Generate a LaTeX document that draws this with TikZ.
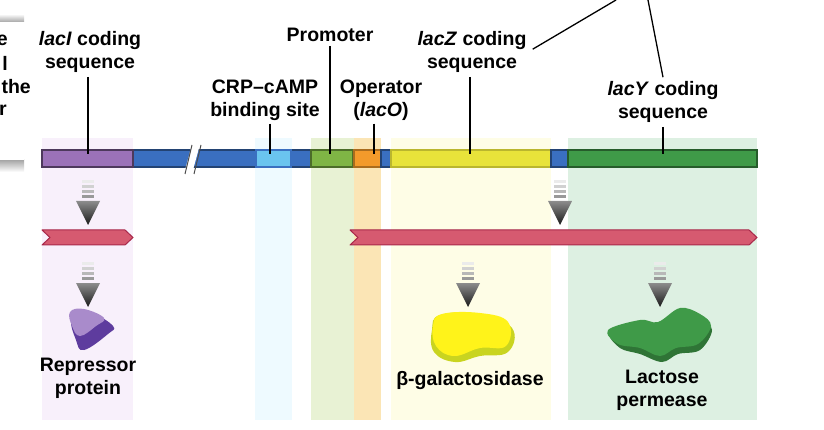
\documentclass[tikz,border=0pt]{standalone}
\usepackage{fontspec}
\setmainfont{Liberation Sans}
\usetikzlibrary{arrows.meta,calc,positioning}
\definecolor{bandI}{HTML}{F8F0FB}
\definecolor{bandC}{HTML}{EEFAFF}
\definecolor{bandP}{HTML}{E8F2D4}
\definecolor{bandO}{HTML}{FBE5B5}
\definecolor{bandZ}{HTML}{FEFDE6}
\definecolor{bandY}{HTML}{DDF0E2}
\definecolor{dnaI}{HTML}{9B72B8}
\definecolor{dnaB}{HTML}{3A6FC0}
\definecolor{dnaC}{HTML}{6AC4EF}
\definecolor{dnaP}{HTML}{7FB545}
\definecolor{dnaO}{HTML}{F39A2B}
\definecolor{dnaZ}{HTML}{E8E33A}
\definecolor{dnaY}{HTML}{3F9A48}
\definecolor{mrna}{HTML}{D65A70}
\definecolor{mrnaD}{HTML}{A8284A}
\definecolor{repL}{HTML}{A98BCB}
\definecolor{repD}{HTML}{5E3C9E}
\tikzset{
  lbl/.style={font=\bfseries\fontsize{19.5}{23}\selectfont,align=center,inner sep=0pt},
  lead/.style={line width=1.3pt,black},
  seg/.style={line width=1.5pt},
  chev/.style={fill=mrna,draw=mrnaD,line width=1pt,line join=round}
}
% expression arrow: dashed stem and shaded head
\newcommand{\exprarrow}[2]{%
  \foreach \k/\g in {0/8,1/18,2/28,3/40}
    \fill[black!\g] (#1-6,#2+\k*5) rectangle (#1+6,#2+\k*5+3);
  \shade[top color=black!45,bottom color=black!90] (#1-12,#2+21) -- (#1+12,#2+21) -- (#1,#2+45) -- cycle;
}
\begin{document}
\begin{tikzpicture}[x=1pt,y=-1pt]
\useasboundingbox (0,0) rectangle (824,430);
\clip (0,0) rectangle (824,430);
% bands
\fill[bandI] (42,138) rectangle (133,420);
\fill[bandC] (255,138) rectangle (292,420);
\fill[bandP] (311,138) rectangle (354,420);
\fill[bandO] (354,138) rectangle (381,420);
\fill[bandZ] (391,138) rectangle (551,420);
\fill[bandY] (568,138) rectangle (757,420);
% left callout box
\shade[top color=white,bottom color=black!35] (-10,14) rectangle (24,22);
\shade[top color=black!35,bottom color=white] (-10,160) rectangle (24,172);
\fill[white] (-10,22) rectangle (24,160);
\node[lbl,anchor=east] (c1) at (8,40) {e};
\node[lbl,anchor=east] (c2) at (8,63) {l};
\node[lbl,anchor=east] (c3) at (31,87) {the};
\node[lbl,anchor=east] (c4) at (7,110) {r};
% DNA
\fill[dnaB] (133,150) rectangle (311,167);
\draw[seg,draw=dnaB!60!black] (133,150) rectangle (311,167);
\draw[seg,fill=dnaI,draw=dnaI!50!black] (42,150) rectangle (133,167);
\fill[white] (191,148) -- (199,148) -- (193,170) -- (185,170) -- cycle;
\draw[line width=1pt,black!70] (192,145) -- (185,174) (201,145) -- (194,174);
\draw[seg,fill=dnaC,draw=dnaB] (256,150) rectangle (291,167);
\draw[seg,fill=dnaP,draw=dnaP!60!black] (311,150) rectangle (353,167);
\draw[seg,fill=dnaO,draw=dnaO!70!black] (354,150) rectangle (381,167);
\draw[seg,fill=dnaB,draw=dnaB!60!black] (381,150) rectangle (391,167);
\draw[seg,fill=dnaZ,draw=dnaZ!80!black] (391,150) rectangle (551,167);
\draw[seg,fill=dnaB,draw=dnaB!60!black] (551,150) rectangle (568,167);
\draw[seg,fill=dnaY,draw=dnaY!60!black] (568,150) rectangle (757,167);
% labels
\node[lbl] (lacI) at (90,52) {\textit{lacI} coding\\sequence};
\node[lbl] (prom) at (330,35) {Promoter};
\node[lbl] (crp) at (265,100) {CRP\textendash cAMP\\binding site};
\node[lbl] (oper) at (381,100) {Operator\\(\textit{lacO})};
\node[lbl] (lacZ) at (472,52) {\textit{lacZ} coding\\sequence};
\node[lbl] (lacY) at (663,102) {\textit{lacY} coding\\sequence};
\coordinate (tI) at (88,154);
\coordinate (tC) at (270,154);
\coordinate (tP) at (330,154);
\coordinate (tO) at (374,154);
\coordinate (tZ) at (470,154);
\coordinate (tY) at (663,154);
\coordinate (uZ) at (616,0);
\coordinate (uY) at (648,0);
\draw[lead] (lacI.south) ++(-2,4) -- (tI);
\draw[lead] (crp.south) ++(5,3) -- (tC);
\draw[lead] (prom.south) ++(0,4) -- (tP);
\draw[lead] (oper.south) ++(-7,3) -- (tO);
\draw[lead] (lacZ.south) ++(-2,4) -- (tZ);
\draw[lead] (lacY.south) ++(0,4) -- (tY);
\draw[lead] ($(lacZ.north east)+(6,18)$) -- (uZ);
\draw[lead] ($(lacY.north)+(0,-4)$) -- (uY);
% transcription / translation arrows
\exprarrow{88}{180}
\exprarrow{560}{180}
\exprarrow{88}{262}
\exprarrow{468}{262}
\exprarrow{660}{262}
% mRNAs
\draw[chev] (42,230) -- (125,230) -- (133,237.5) -- (125,245) -- (42,245) -- (50,237.5) -- cycle;
\draw[chev] (350,230) -- (749,230) -- (757,237.5) -- (749,245) -- (350,245) -- (358,237.5) -- cycle;
% proteins
\fill[repD] plot[smooth cycle,tension=0.7] coordinates {(72,318) (92,314) (113,326) (108,334) (84,350) (76,340)};
\fill[repL] plot[smooth cycle,tension=0.7] coordinates {(70,312) (84,309) (104,318) (96,326) (80,336) (72,326)};
\fill[yellow!85!green!90!black] plot[smooth cycle,tension=0.7] coordinates {(440,315) (480,314) (512,328) (508,352) (480,356) (455,362) (434,352) (432,330)};
\fill[yellow!90!white] plot[smooth cycle,tension=0.7] coordinates {(442,314) (480,313) (508,322) (506,346) (480,348) (454,356) (436,346) (433,326)};
\fill[dnaY!75!black] plot[smooth cycle,tension=0.6] coordinates {(610,332) (640,322) (658,324) (680,312) (700,318) (712,330) (700,350) (678,354) (662,362) (640,354) (620,348)};
\fill[dnaY] plot[smooth cycle,tension=0.6] coordinates {(608,330) (640,320) (658,322) (680,308) (700,314) (711,326) (698,344) (676,348) (660,356) (640,348) (618,344)};
% protein labels
\node[lbl] (rep) at (88,378) {Repressor\\protein};
\node[lbl] (bgal) at (470,380) {β-galactosidase};
\node[lbl] (perm) at (662,390) {Lactose\\permease};
\end{tikzpicture}
\end{document}
